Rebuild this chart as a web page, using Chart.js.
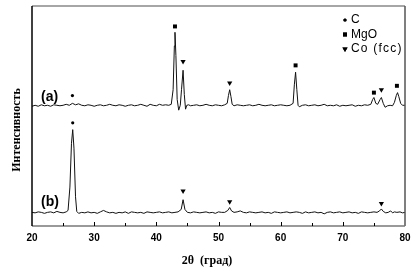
<!DOCTYPE html>
<html>
<head>
<meta charset="utf-8">
<script src="https://cdn.jsdelivr.net/npm/chart.js@4/dist/chart.umd.min.js"></script>
<style>
  html, body { margin: 0; padding: 0; background: #fff; }
  #wrap { width: 419px; height: 272px; }
</style>
</head>
<body>
<div id="wrap"><canvas id="xrd"></canvas></div>
<script>
// pattern (a), shifted up by the offset used in the figure
const aX = [20, 20.5, 21, 21.5, 22, 22.5, 23, 23.5, 24, 24.5, 25, 25.5, 26, 26.5, 27, 27.5, 28, 28.5, 29, 29.5,
  30, 30.5, 31, 31.5, 32, 32.5, 33, 33.5, 34, 34.5, 35, 35.5, 36, 36.5, 37, 37.5, 38, 38.5, 39, 39.5,
  40, 40.5, 41, 41.5, 42, 42.4, 42.7, 42.9, 43.0, 43.15, 43.35, 43.6, 43.85, 44.05, 44.3, 44.5, 44.7, 44.9,
  45.2, 45.5, 46, 46.5, 47, 47.5, 48, 48.5, 49, 49.5, 50, 50.5, 51, 51.4, 51.6, 51.8, 52.0, 52.2, 52.5,
  53, 53.5, 54, 54.5, 55, 55.5, 56, 56.5, 57, 57.5, 58, 58.5, 59, 59.5, 60, 60.5, 61, 61.5, 62.0, 62.2,
  62.4, 62.6, 62.8, 63, 63.5, 64, 64.5, 65, 65.5, 66, 66.5, 67, 67.5, 68, 68.5, 69, 69.5, 70, 70.5, 71,
  71.5, 72, 72.5, 73, 73.5, 74, 74.5, 74.8, 75.0, 75.3, 75.6, 76.0, 76.2, 76.5, 76.8, 77.2, 77.6, 78.0,
  78.3, 78.6, 78.8, 79.0, 79.3, 79.6, 80];
const aY = [123, 124, 123, 124.5, 123.5, 124, 123, 124.5, 124, 123.5, 124, 125, 124, 126, 124.5, 125.5, 124, 123.5, 124.5, 124,
  123, 124, 124.5, 123.5, 124, 125, 124, 123.5, 124.5, 124, 123, 124, 124.5, 123.5, 124, 125, 124, 123, 125, 124,
  123.5, 125, 124, 124.5, 124, 125, 140, 185, 199, 175, 130, 119, 124, 140, 160, 135, 120, 124,
  124.5, 123.5, 124, 124.5, 123.5, 124, 125, 124, 123.5, 124.5, 124, 123.5, 124.5, 126, 134, 140, 133, 125, 123.5,
  124.5, 124, 123.5, 124, 124.5, 123.5, 124, 125, 124, 123.5, 124, 124.5, 123.5, 124, 124.5, 124, 123.5, 124, 126, 145,
  158, 140, 124, 122.5, 124, 124.5, 123.5, 124, 124.5, 123.5, 124, 125, 123.5, 124, 123.5, 124.5, 123, 124, 123.5, 124,
  124.5, 123, 124, 123.5, 124.5, 124, 125, 130, 132, 126, 125, 130, 132, 126, 122, 123.5, 124, 123.5,
  127, 134, 137, 133, 126, 124, 124];

// pattern (b)
const bX = [20, 20.5, 21, 21.5, 22, 22.5, 23, 23.5, 24, 24.5, 25, 25.5, 25.8, 26.1, 26.35, 26.55, 26.75, 27.0, 27.2, 27.5,
  28, 28.5, 29, 29.5, 30, 30.5, 31, 31.5, 32, 32.5, 33, 33.5, 34, 34.5, 35, 35.5, 36, 36.5, 37, 37.5,
  38, 38.5, 39, 39.5, 40, 40.5, 41, 41.5, 42, 42.5, 43, 43.5, 44.0, 44.3, 44.6, 45, 45.5, 46, 46.5, 47,
  47.5, 48, 48.5, 49, 49.5, 50, 50.5, 51, 51.5, 51.8, 52.1, 52.5, 53, 53.5, 54, 54.5, 55, 55.5, 56, 56.5,
  57, 57.5, 58, 58.5, 59, 59.5, 60, 60.5, 61, 61.5, 62, 62.5, 63, 63.5, 64, 64.5, 65, 65.5, 66, 66.5,
  67, 67.5, 68, 68.5, 69, 69.5, 70, 70.5, 71, 71.5, 72, 72.5, 73, 73.5, 74, 74.5, 75, 75.5, 75.9, 76.2,
  76.5, 76.9, 77.3, 77.7, 78.0, 78.3, 78.7, 79.2, 79.6, 80];
const bY = [14, 13.5, 14.5, 14, 13, 14, 14.5, 13.5, 15, 14, 13.5, 14.5, 16, 40, 85, 99, 80, 30, 15, 13,
  14, 13.5, 14.5, 13.5, 14, 13, 14.5, 16, 14.5, 13.5, 14, 13, 14, 13.5, 14.5, 13, 14.5, 14, 13.5, 14,
  13, 14.5, 14, 13.5, 14, 14.5, 13.5, 14, 14.5, 13.5, 14, 14.5, 17, 27, 17, 14, 13.5, 14.5, 14, 13.5,
  14, 14.5, 13.5, 14, 13, 14.5, 14, 14, 16, 19, 15.5, 14, 14.5, 15.5, 14, 13.5, 14.5, 14, 13.5, 14,
  14.5, 13.5, 14, 13, 14.5, 14, 13.5, 14, 14.5, 13.5, 14, 14.5, 14, 13, 14.5, 13.5, 14, 14.5, 13.5, 14,
  12.5, 14, 14.5, 13.5, 14, 14.5, 13.5, 14, 14.5, 13.5, 14, 13, 14.5, 14, 13.5, 14, 14.5, 14, 15.5, 17.5,
  15, 13.5, 14, 15.5, 13.5, 14.5, 14, 14.5, 13.5, 14];

// phase markers above the peaks
const cX = [26.5, 26.55];
const cY = [134, 106];
const mgoX = [43.0, 62.4, 75.0, 78.7];
const mgoY = [205, 165, 137, 144];
const coX = [44.3, 51.8, 76.2, 44.3, 51.8, 76.2];
const coY = [169, 147, 140, 36, 25, 23];

const legendItems = [
  { text: 'C', style: 'circle', r: 1.6, rot: 0, spacing: '0px' },
  { text: 'MgO', style: 'rect', r: 2.8, rot: 0, spacing: '0px' },
  { text: 'Co (fcc)', style: 'triangle', r: 3, rot: 180, spacing: '1.2px' }
];

const pts = (xs, ys) => xs.map((x, i) => ({ x: x, y: ys[i] }));

const extras = {
  id: 'extras',
  afterDraw(chart) {
    const { ctx, chartArea: a, scales } = chart;
    const xs = scales.x;
    ctx.save();
    // frame
    ctx.lineWidth = 1.5;
    ctx.strokeStyle = '#888';
    ctx.beginPath(); ctx.moveTo(a.left, a.top); ctx.lineTo(a.right, a.top); ctx.stroke();
    ctx.strokeStyle = '#555';
    ctx.beginPath(); ctx.moveTo(a.right, a.top); ctx.lineTo(a.right, a.bottom); ctx.stroke();
    ctx.strokeStyle = '#777';
    ctx.beginPath(); ctx.moveTo(a.left, a.bottom); ctx.lineTo(a.right, a.bottom); ctx.stroke();
    ctx.strokeStyle = '#000';
    ctx.beginPath(); ctx.moveTo(a.left, a.top); ctx.lineTo(a.left, a.bottom); ctx.stroke();
    // inward ticks
    ctx.lineWidth = 1;
    for (let v = 25; v < 80; v += 5) {
      const px = Math.round(xs.getPixelForValue(v)) + 0.5;
      const len = v % 10 === 0 ? 4 : 3;
      ctx.beginPath(); ctx.moveTo(px, a.bottom); ctx.lineTo(px, a.bottom - len); ctx.stroke();
    }
    ctx.fillStyle = '#000';
    // pattern labels
    ctx.font = 'bold 14px "Liberation Sans", Arial, sans-serif';
    ctx.textBaseline = 'middle';
    ctx.textAlign = 'left';
    ctx.fillText('(a)', 41, 97);
    ctx.fillText('(b)', 41, 202);
    // legend
    ctx.font = '12px "Liberation Sans", Arial, sans-serif';
    legendItems.forEach((it, i) => {
      const y = 20 + i * 14.5;
      Chart.helpers.drawPoint(ctx, { pointStyle: it.style, radius: it.r, rotation: it.rot, borderWidth: 0 }, 345, y);
      ctx.fill();
      ctx.letterSpacing = it.spacing;
      ctx.fillText(it.text, 351, y);
    });
    ctx.letterSpacing = '0px';
    // axis titles
    ctx.font = 'bold 12px "Liberation Serif", "Times New Roman", serif';
    ctx.textAlign = 'center';
    ctx.fillText('2θ  (град)', 207, 261);
    ctx.translate(17, 130);
    ctx.rotate(-Math.PI / 2);
    ctx.fillText('Интенсивность', 0, 0);
    ctx.restore();
  }
};

const markerSet = (xs, ys, style, r, rot) => ({
  data: pts(xs, ys),
  showLine: false,
  pointStyle: style,
  pointRadius: r,
  pointRotation: rot,
  pointBackgroundColor: '#000',
  pointBorderWidth: 0
});

new Chart(document.getElementById('xrd'), {
  type: 'line',
  data: {
    datasets: [
      { data: pts(aX, aY), borderColor: '#111', borderWidth: 1, pointRadius: 0, tension: 0 },
      { data: pts(bX, bY), borderColor: '#111', borderWidth: 1, pointRadius: 0, tension: 0 },
      markerSet(cX, cY, 'circle', 1.6, 0),
      markerSet(mgoX, mgoY, 'rect', 2.8, 0),
      markerSet(coX, coY, 'triangle', 3, 180)
    ]
  },
  options: {
    responsive: true,
    maintainAspectRatio: false,
    animation: false,
    layout: { padding: { left: 32, right: 14, top: 6, bottom: 22 } },
    plugins: { legend: { display: false }, tooltip: { enabled: false } },
    scales: {
      x: {
        type: 'linear', min: 20, max: 80,
        grid: { display: false, drawTicks: false },
        border: { display: false },
        ticks: { stepSize: 10, padding: 6, color: '#000', font: { family: '"Liberation Sans", Arial, sans-serif', size: 10, weight: 'bold' } }
      },
      y: { display: false, min: 0, max: 226 }
    }
  },
  plugins: [extras]
});
</script>
</body>
</html>
